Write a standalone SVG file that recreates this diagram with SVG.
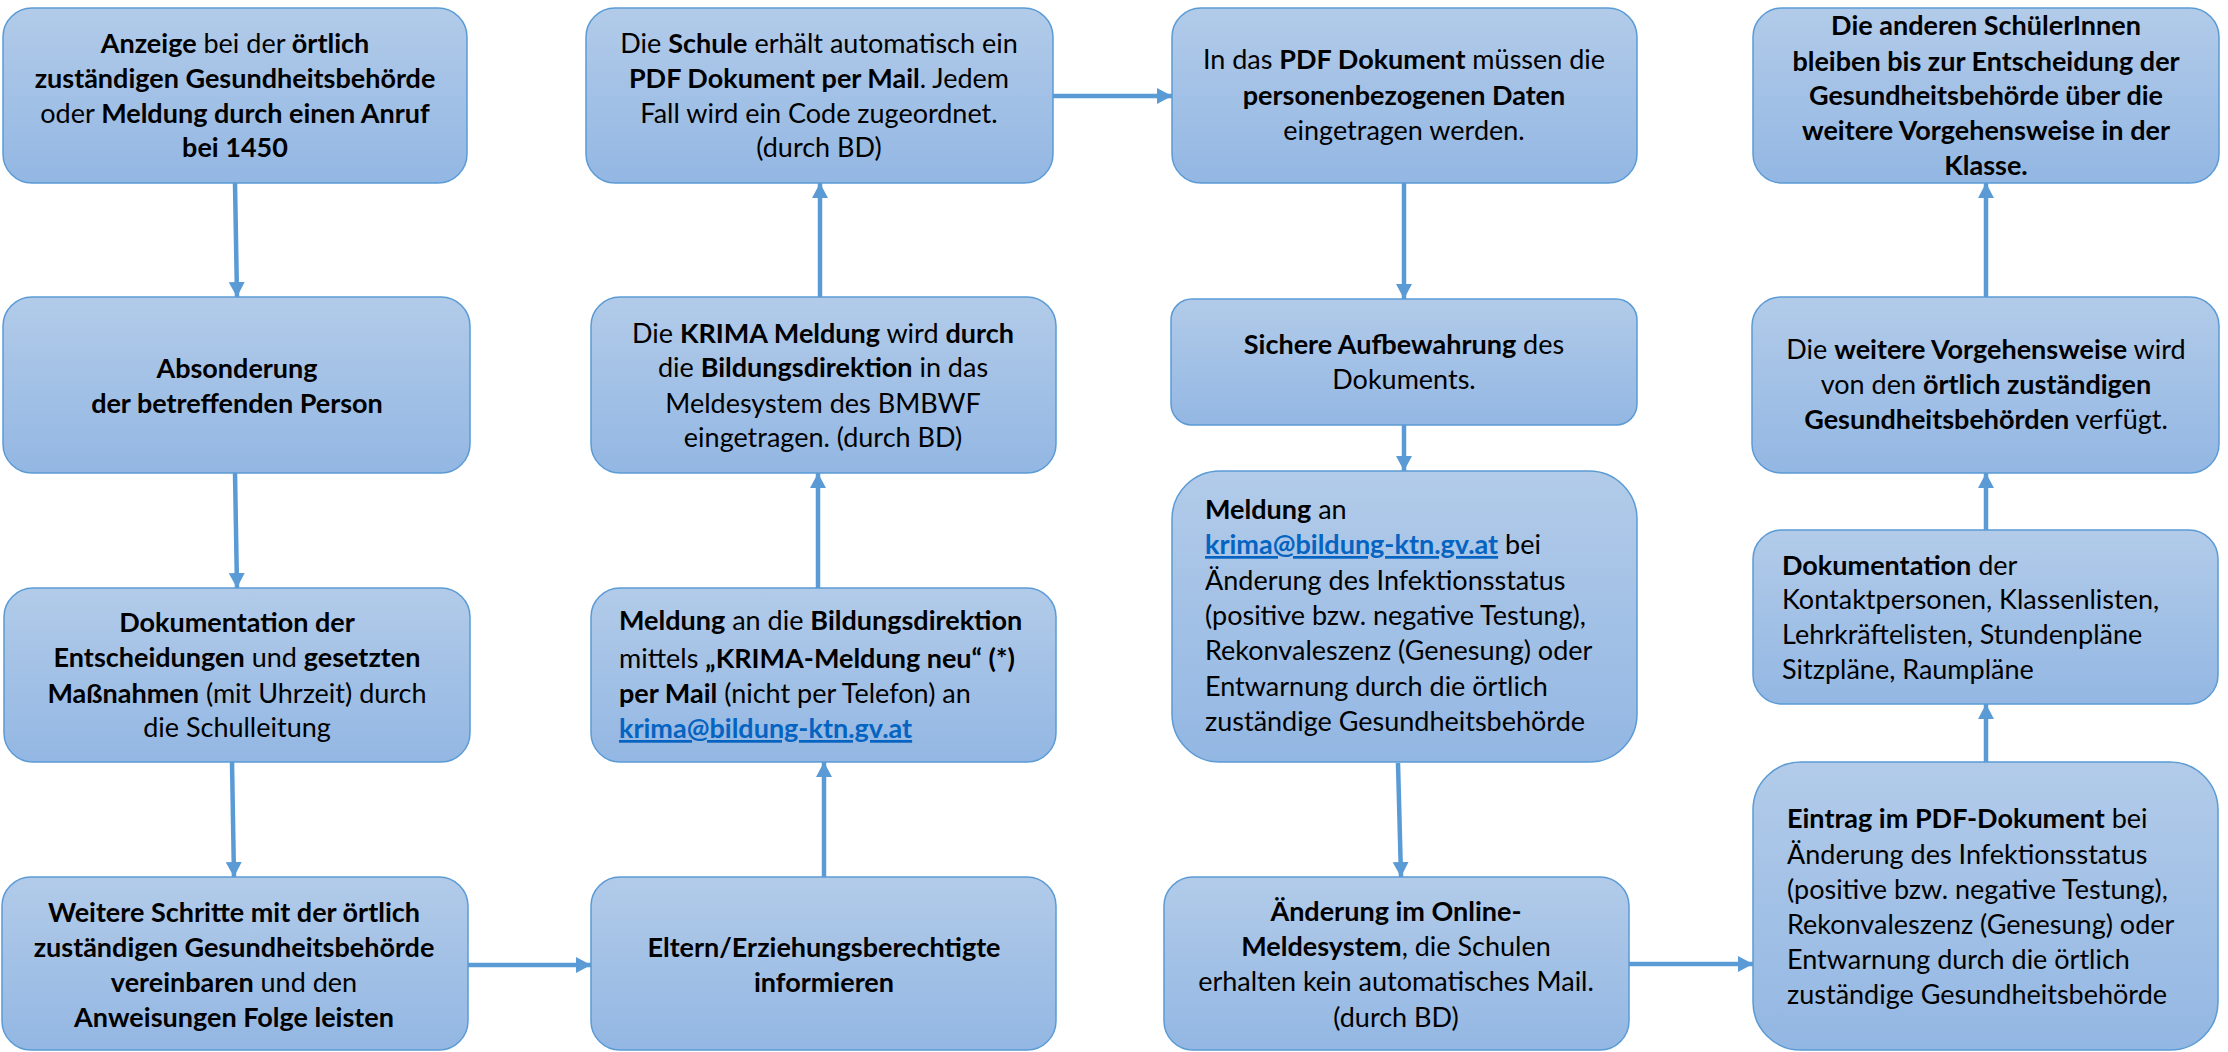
<svg xmlns="http://www.w3.org/2000/svg" width="2228" height="1052" viewBox="0 0 2228 1052">
<style>
.box{fill:url(#g);stroke:#5b9bd5;stroke-width:1.5}
text{font-family:Lato,"Liberation Sans",sans-serif;font-size:27px;fill:#000}
.c{text-anchor:middle}
.b{font-weight:bold}
.lk{font-weight:bold;fill:#0563c1;text-decoration:underline}
.con{stroke:#5b9bd5;stroke-width:4.5;fill:none;marker-end:url(#ah)}
</style>
<defs>
<linearGradient id="g" x1="0" y1="0" x2="0" y2="1">
<stop offset="0" stop-color="#b2cbe9"/>
<stop offset="1" stop-color="#93b7e3"/>
</linearGradient>
<marker id="ah" markerUnits="userSpaceOnUse" markerWidth="18" markerHeight="18" refX="15" refY="8" orient="auto">
<path d="M0,0 L15,8 L0,16 Z" fill="#5b9bd5"/>
</marker>
</defs>
<rect width="2228" height="1052" fill="#fff"/>
<g id="connectors">
<path class="con" d="M235,183 L237,297"/>
<path class="con" d="M235,473 L237,588"/>
<path class="con" d="M232,762 L234,877"/>
<path class="con" d="M468,965 L591,965"/>
<path class="con" d="M824,877 L824,762"/>
<path class="con" d="M818,588 L818,473"/>
<path class="con" d="M820,297 L820,183"/>
<path class="con" d="M1053,96 L1172,96"/>
<path class="con" d="M1404,183 L1404,299"/>
<path class="con" d="M1404,425 L1404,471"/>
<path class="con" d="M1398,763 L1401,877"/>
<path class="con" d="M1629,964 L1753,964"/>
<path class="con" d="M1986,762 L1986,704"/>
<path class="con" d="M1986,530 L1986,473"/>
<path class="con" d="M1986,297 L1986,183"/>
</g>
<g id="n1">
<rect class="box" x="3" y="8" width="464" height="175" rx="29"/>
<text class="c" x="235" y="53"><tspan class="b">Anzeige</tspan> bei der <tspan class="b">örtlich</tspan></text>
<text class="c b" x="235" y="88">zuständigen Gesundheitsbehörde</text>
<text class="c" x="235" y="123">oder <tspan class="b">Meldung durch einen Anruf</tspan></text>
<text class="c b" x="235" y="157">bei 1450</text>
</g>
<g id="n2">
<rect class="box" x="3" y="297" width="467" height="176" rx="29"/>
<text class="c b" x="237" y="378">Absonderung</text>
<text class="c b" x="237" y="413">der betreffenden Person</text>
</g>
<g id="n3">
<rect class="box" x="4" y="588" width="466" height="174" rx="29"/>
<text class="c b" x="237" y="632">Dokumentation der</text>
<text class="c" x="237" y="667"><tspan class="b">Entscheidungen</tspan> und <tspan class="b">gesetzten</tspan></text>
<text class="c" x="237" y="703"><tspan class="b">Maßnahmen</tspan> (mit Uhrzeit) durch</text>
<text class="c" x="237" y="737">die Schulleitung</text>
</g>
<g id="n4">
<rect class="box" x="2" y="877" width="466" height="173" rx="29"/>
<text class="c b" x="234" y="922">Weitere Schritte mit der örtlich</text>
<text class="c b" x="234" y="957">zuständigen Gesundheitsbehörde</text>
<text class="c" x="234" y="992"><tspan class="b">vereinbaren</tspan> und den</text>
<text class="c b" x="234" y="1027">Anweisungen Folge leisten</text>
</g>
<g id="n5">
<rect class="box" x="586" y="8" width="467" height="175" rx="29"/>
<text class="c" x="819" y="53">Die <tspan class="b">Schule</tspan> erhält automatisch ein</text>
<text class="c" x="819" y="88"><tspan class="b">PDF Dokument per Mail</tspan>. Jedem</text>
<text class="c" x="819" y="123">Fall wird ein Code zugeordnet.</text>
<text class="c" x="819" y="157">(durch BD)</text>
</g>
<g id="n6">
<rect class="box" x="591" y="297" width="465" height="176" rx="29"/>
<text class="c" x="823" y="343">Die <tspan class="b">KRIMA Meldung</tspan> wird <tspan class="b">durch</tspan></text>
<text class="c" x="823" y="377">die <tspan class="b">Bildungsdirektion</tspan> in das</text>
<text class="c" x="823" y="413">Meldesystem des BMBWF</text>
<text class="c" x="823" y="447">eingetragen. (durch BD)</text>
</g>
<g id="n7">
<rect class="box" x="591" y="588" width="465" height="174" rx="29"/>
<text x="619" y="630"><tspan class="b">Meldung</tspan> an die <tspan class="b">Bildungsdirektion</tspan></text>
<text x="619" y="668">mittels <tspan class="b">„KRIMA-Meldung neu“ (*)</tspan></text>
<text x="619" y="703"><tspan class="b">per Mail</tspan> (nicht per Telefon) an</text>
<text x="619" y="738"><tspan class="lk">krima@bildung-ktn.gv.at</tspan></text>
</g>
<g id="n8">
<rect class="box" x="591" y="877" width="465" height="173" rx="29"/>
<text class="c b" x="824" y="957">Eltern/Erziehungsberechtigte</text>
<text class="c b" x="824" y="992">informieren</text>
</g>
<g id="n9">
<rect class="box" x="1172" y="8" width="465" height="175" rx="29"/>
<text class="c" x="1404" y="69">In das <tspan class="b">PDF Dokument</tspan> müssen die</text>
<text class="c b" x="1404" y="105">personenbezogenen Daten</text>
<text class="c" x="1404" y="140">eingetragen werden.</text>
</g>
<g id="n10">
<rect class="box" x="1171" y="299" width="466" height="126" rx="21"/>
<text class="c" x="1404" y="354"><tspan class="b">Sichere Aufbewahrung</tspan> des</text>
<text class="c" x="1404" y="389">Dokuments.</text>
</g>
<g id="n11">
<rect class="box" x="1172" y="471" width="465" height="291" rx="48"/>
<text x="1205" y="519"><tspan class="b">Meldung</tspan> an</text>
<text x="1205" y="554"><tspan class="lk">krima@bildung-ktn.gv.at</tspan> bei</text>
<text x="1205" y="590">Änderung des Infektionsstatus</text>
<text x="1205" y="625">(positive bzw. negative Testung),</text>
<text x="1205" y="660">Rekonvaleszenz (Genesung) oder</text>
<text x="1205" y="696">Entwarnung durch die örtlich</text>
<text x="1205" y="731">zuständige Gesundheitsbehörde</text>
</g>
<g id="n12">
<rect class="box" x="1164" y="877" width="465" height="173" rx="29"/>
<text class="c b" x="1396" y="921">Änderung im Online-</text>
<text class="c" x="1396" y="956"><tspan class="b">Meldesystem</tspan>, die Schulen</text>
<text class="c" x="1396" y="991">erhalten kein automatisches Mail.</text>
<text class="c" x="1396" y="1027">(durch BD)</text>
</g>
<g id="n13">
<rect class="box" x="1753" y="8" width="466" height="175" rx="29"/>
<text class="c b" x="1986" y="35">Die anderen SchülerInnen</text>
<text class="c b" x="1986" y="71">bleiben bis zur Entscheidung der</text>
<text class="c b" x="1986" y="105">Gesundheitsbehörde über die</text>
<text class="c b" x="1986" y="140">weitere Vorgehensweise in der</text>
<text class="c b" x="1986" y="175">Klasse.</text>
</g>
<g id="n14">
<rect class="box" x="1752" y="297" width="467" height="176" rx="29"/>
<text class="c" x="1986" y="359">Die <tspan class="b">weitere Vorgehensweise</tspan> wird</text>
<text class="c" x="1986" y="394">von den <tspan class="b">örtlich zuständigen</tspan></text>
<text class="c" x="1986" y="429"><tspan class="b">Gesundheitsbehörden</tspan> verfügt.</text>
</g>
<g id="n15">
<rect class="box" x="1753" y="530" width="465" height="174" rx="29"/>
<text x="1782" y="575"><tspan class="b">Dokumentation</tspan> der</text>
<text x="1782" y="609">Kontaktpersonen, Klassenlisten,</text>
<text x="1782" y="644">Lehrkräftelisten, Stundenpläne</text>
<text x="1782" y="679">Sitzpläne, Raumpläne</text>
</g>
<g id="n16">
<rect class="box" x="1753" y="762" width="465" height="288" rx="48"/>
<text x="1787" y="828"><tspan class="b">Eintrag im PDF-Dokument</tspan> bei</text>
<text x="1787" y="864">Änderung des Infektionsstatus</text>
<text x="1787" y="899">(positive bzw. negative Testung),</text>
<text x="1787" y="934">Rekonvaleszenz (Genesung) oder</text>
<text x="1787" y="969">Entwarnung durch die örtlich</text>
<text x="1787" y="1004">zuständige Gesundheitsbehörde</text>
</g>
</svg>
